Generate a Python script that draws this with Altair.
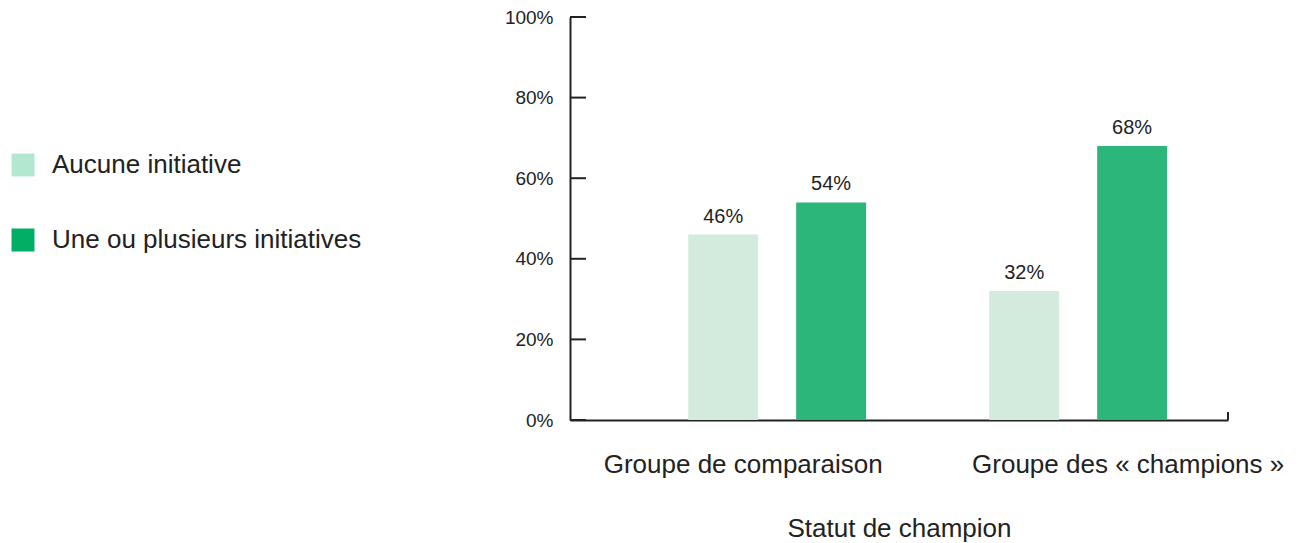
import altair as alt
import pandas as pd

# Categories and values (percent of respondents)
groups = ["Groupe de comparaison", "Groupe des « champions »"]
series = ["Aucune initiative", "Une ou plusieurs initiatives"]
aucune = [46, 32]
plusieurs = [54, 68]
y_ticks = [0, 0.2, 0.4, 0.6, 0.8, 1.0]

bar_colors = ["#d3ebdc", "#2cb679"]
legend_colors = ["#b2e8d0", "#00ae66"]

rows = []
for g, a, p in zip(groups, aucune, plusieurs):
    rows.append({"groupe": g, "serie": series[0], "pct": a / 100})
    rows.append({"groupe": g, "serie": series[1], "pct": p / 100})
df = pd.DataFrame(rows)
ticks_df = pd.DataFrame({"t": y_ticks})

W, H = 658, 403
FONT = "Liberation Sans"
INK = "#222222"

x_enc = alt.X(
    "groupe:N",
    sort=groups,
    title="Statut de champion",
    scale=alt.Scale(paddingInner=0.409, paddingOuter=0.2975, align=0.66),
    axis=alt.Axis(
        labelAngle=0,
        ticks=False,
        labelPadding=31,
        labelFontSize=26,
        labelFont=FONT,
        labelColor=INK,
        labelLimit=600,
        labelOffset={
            "condition": {"test": "datum.value === 'Groupe de comparaison'", "value": -34},
            "value": 50,
        },
        titleFontSize=26,
        titleFont=FONT,
        titleFontWeight="normal",
        titleColor=INK,
        titlePadding=38,
        domainColor=INK,
        domainWidth=2,
    ),
)
xoff_enc = alt.XOffset("serie:N", sort=series, scale=alt.Scale(paddingInner=0.352, paddingOuter=0))
y_enc = alt.Y(
    "pct:Q",
    scale=alt.Scale(domain=[0, 1], nice=False),
    title=None,
    axis=alt.Axis(
        values=y_ticks,
        format=".0%",
        ticks=False,
        grid=False,
        labelPadding=17,
        labelFontSize=19,
        labelFont=FONT,
        labelColor=INK,
        domainColor=INK,
        domainWidth=2,
    ),
)

base = alt.Chart(df)

bars = base.mark_bar().encode(
    x=x_enc,
    xOffset=xoff_enc,
    y=y_enc,
    color=alt.Color("serie:N", sort=series, scale=alt.Scale(domain=series, range=bar_colors), legend=None),
)

labels = base.mark_text(dy=-12, baseline="alphabetic", fontSize=20, font=FONT, color=INK).encode(
    x=alt.X("groupe:N", sort=groups),
    xOffset=alt.XOffset("serie:N", sort=series),
    y="pct:Q",
    text=alt.Text("pct:Q", format=".0%"),
)

# Invisible squares that only carry the legend
legend_layer = base.mark_square(opacity=0).encode(
    x=alt.X("groupe:N", sort=groups),
    xOffset=alt.XOffset("serie:N", sort=series),
    y="pct:Q",
    fill=alt.Fill(
        "serie:N",
        sort=series,
        scale=alt.Scale(domain=series, range=legend_colors),
        legend=alt.Legend(
            title=None,
            orient="none",
            legendX=-560,
            legendY=135,
            symbolType="square",
            symbolSize=529,
            symbolOpacity=1,
            symbolStrokeWidth=0,
            labelFontSize=26,
            labelFont=FONT,
            labelColor=INK,
            labelOffset=16,
            rowPadding=49,
            labelLimit=500,
        ),
    ),
)

# Inward tick marks on the value axis
y_tick_marks = alt.Chart(ticks_df).mark_rule(color=INK, strokeWidth=2).encode(
    y=alt.Y("t:Q"),
    x=alt.value(0),
    x2=alt.value(16),
)

# Small upward tick closing the category axis on the right
end_tick = alt.Chart(ticks_df.head(1)).mark_rule(color=INK, strokeWidth=2).encode(
    x=alt.value(W),
    y=alt.value(H - 8),
    y2=alt.value(H),
)

chart = (
    alt.layer(bars, labels, legend_layer, y_tick_marks, end_tick)
    .resolve_scale(color="independent", fill="independent")
    .properties(width=W, height=H, padding={"left": 10, "top": 8, "right": 5, "bottom": 5})
    .configure_view(strokeWidth=0)
)

chart.save("out.html", embed_options={"renderer": "svg", "actions": False})
